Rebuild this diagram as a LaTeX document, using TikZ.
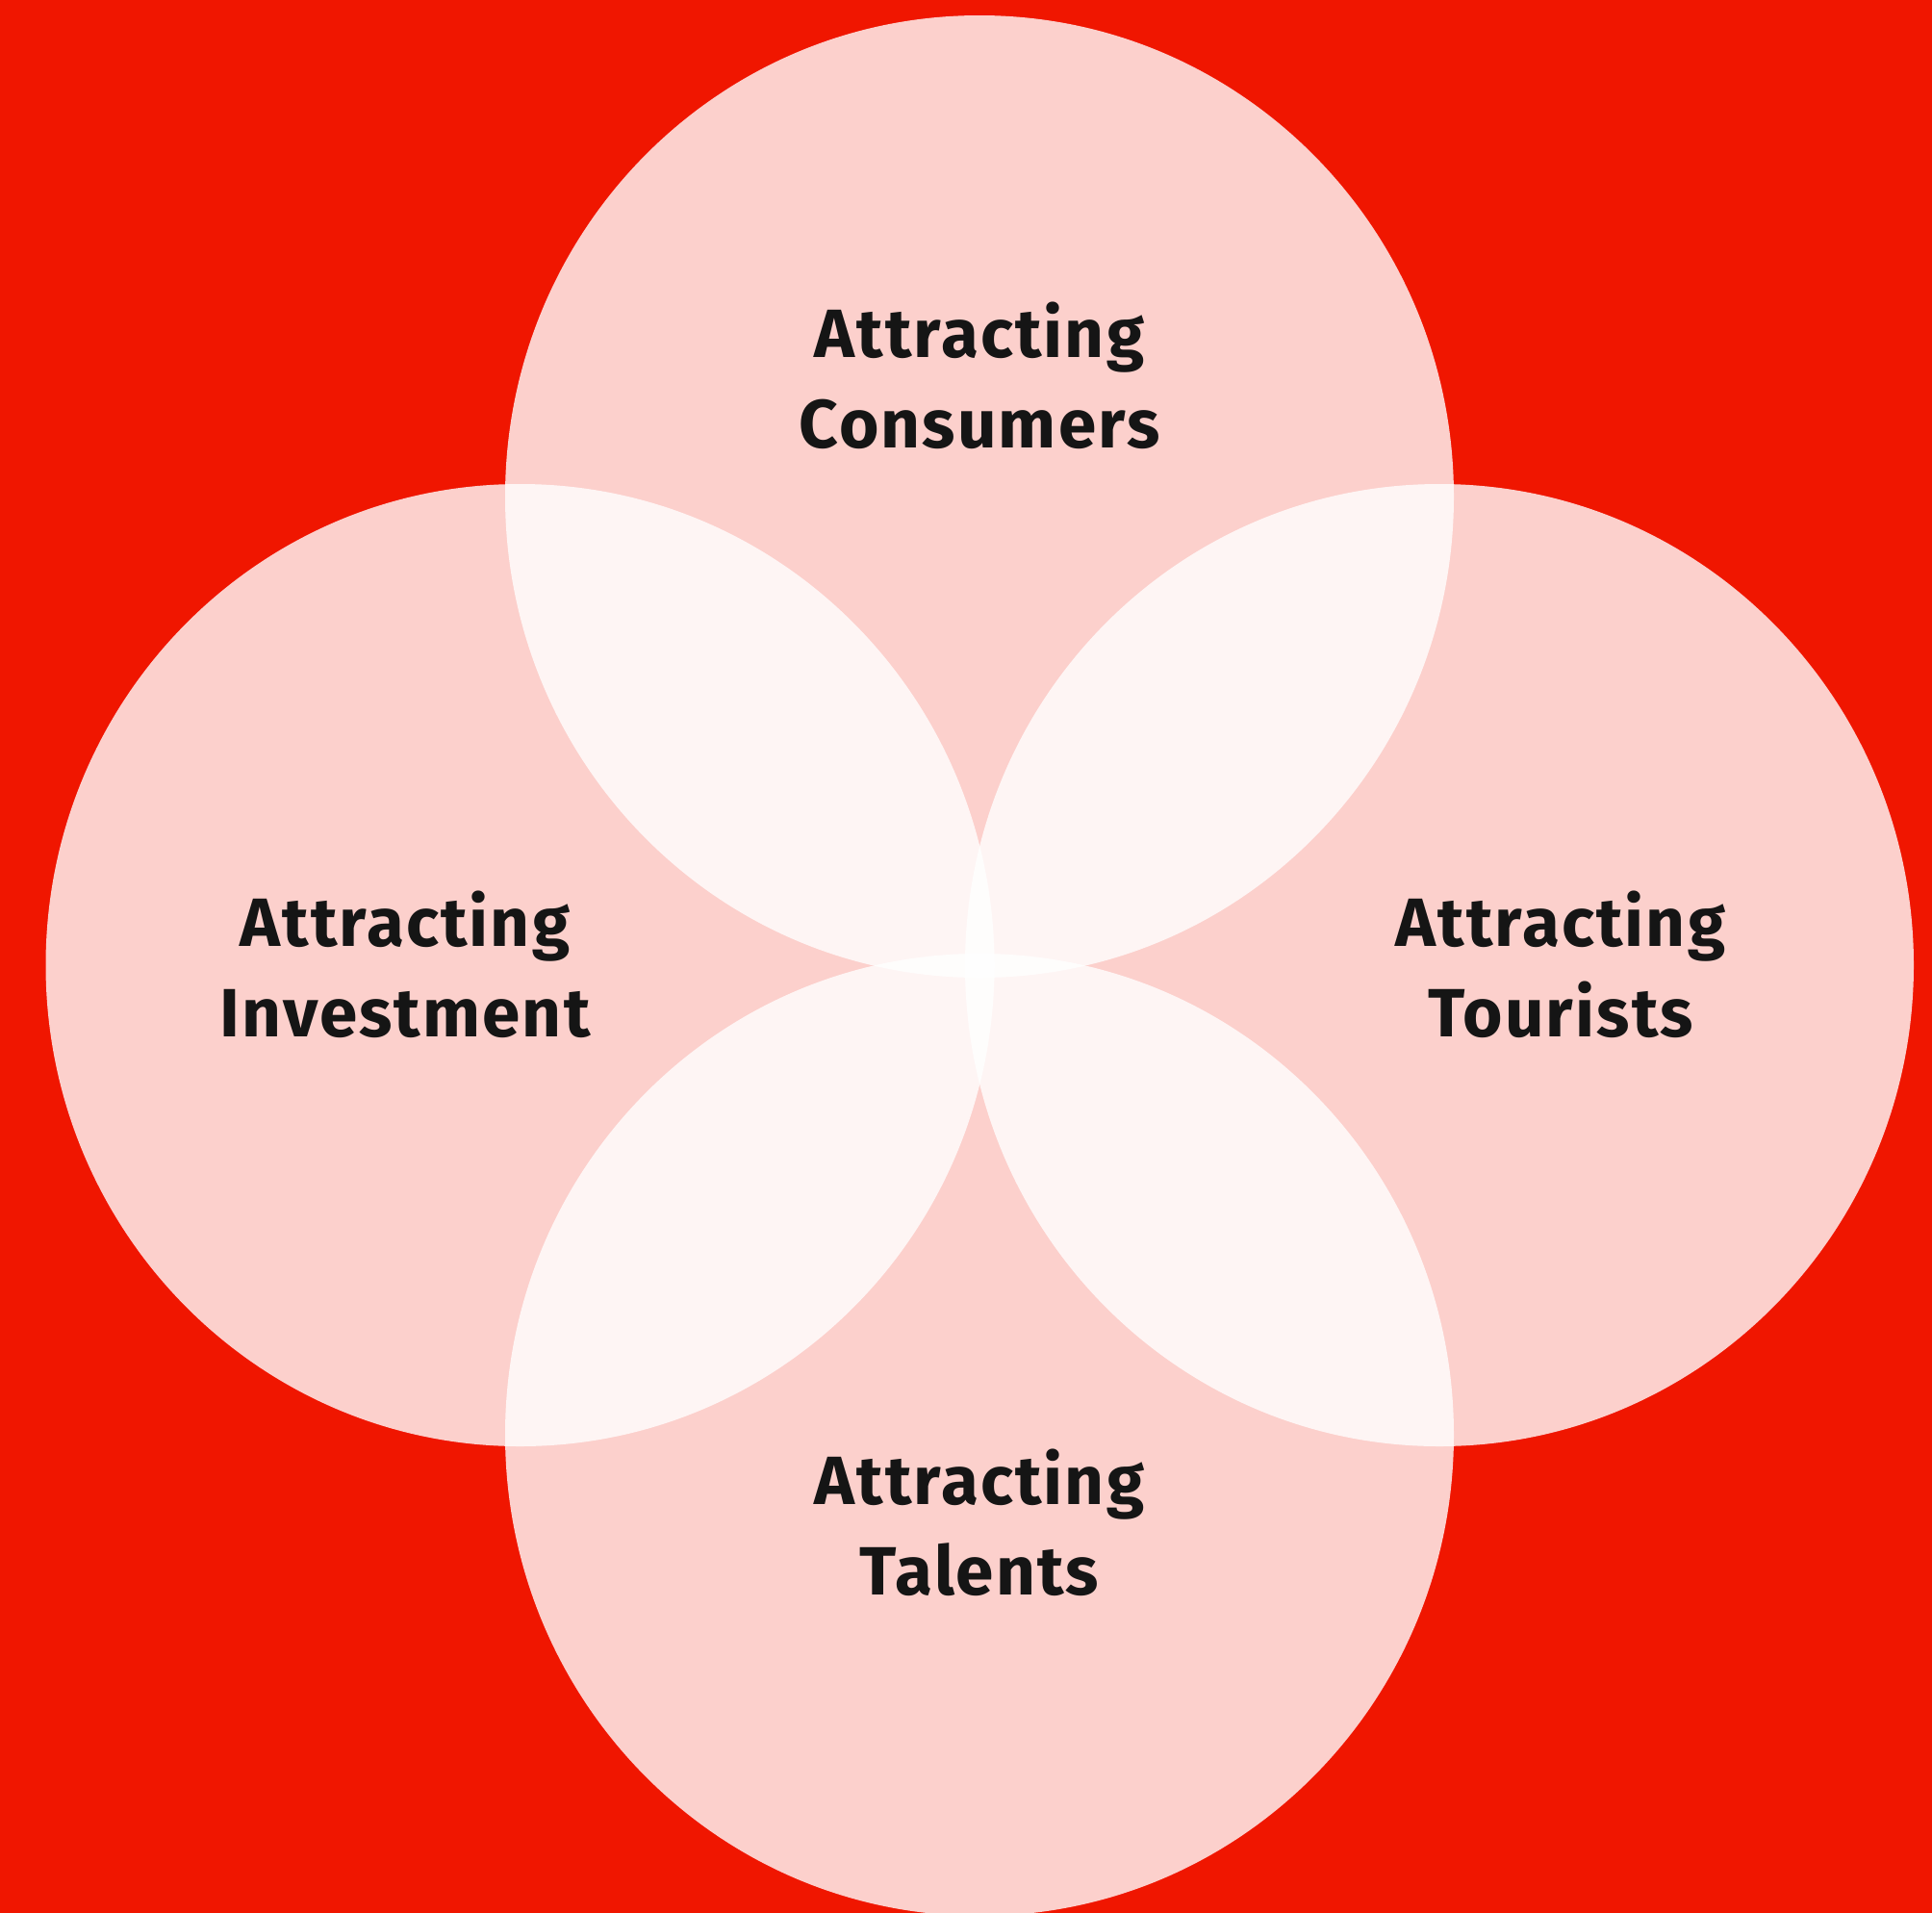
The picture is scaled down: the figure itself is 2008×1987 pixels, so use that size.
\documentclass[tikz,border=0pt]{standalone}
\usepackage{fontspec}
\setmainfont{Fira Sans}[LetterSpace=3]
\definecolor{bgred}{RGB}{240,22,0}
\definecolor{inkdark}{RGB}{21,21,21}
\tikzset{
  lbl/.style={anchor=base, inner sep=0pt, text=inkdark, font=\fontsize{71}{80}\selectfont\bfseries},
  disc/.style={fill=white, fill opacity=0.8}
}
\begin{document}
\begin{tikzpicture}[x=1pt,y=-1pt]
\useasboundingbox (0,0) rectangle (2008,1987);
\clip (0,0) rectangle (2008,1987);
\fill[bgred] (-2,-2) rectangle (2010,1990);
\fill[disc] (1018,516) ellipse [x radius=493, y radius=500];
\fill[disc] (540.5,1003) ellipse [x radius=493, y radius=500];
\fill[disc] (1496,1003) ellipse [x radius=493, y radius=500];
\fill[disc] (1018,1491) ellipse [x radius=493, y radius=500];
\node[lbl] (topA) at (1018,371) {Attracting};
\node[lbl] (topB) at (1018,465) {Consumers};
\node[lbl] (leftA) at (421,983) {Attracting};
\node[lbl] (leftB) at (421,1077) {Investment};
\node[lbl] (rightA) at (1622,983) {Attracting};
\node[lbl] (rightB) at (1622,1077) {Tourists};
\node[lbl] (botA) at (1018,1563) {Attracting};
\node[lbl] (botB) at (1018,1657) {Talents};
\end{tikzpicture}
\end{document}
